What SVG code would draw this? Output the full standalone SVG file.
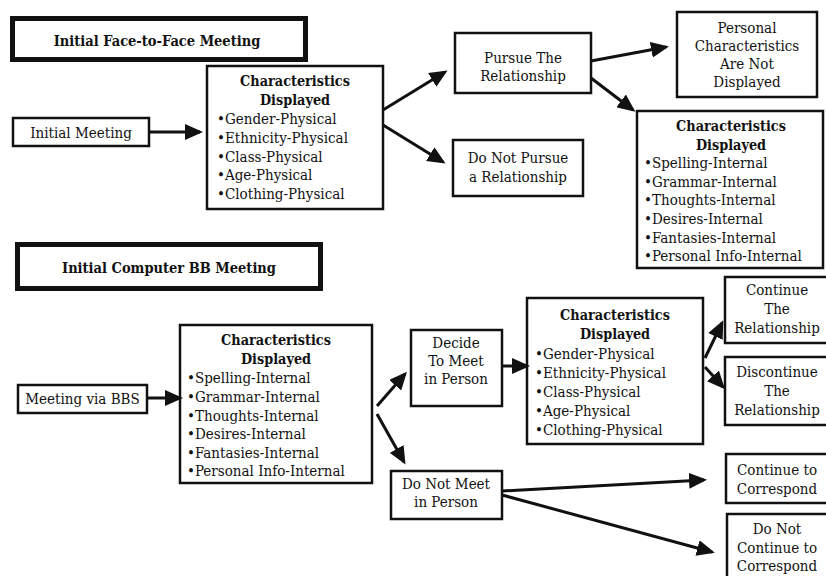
<svg xmlns="http://www.w3.org/2000/svg" width="826" height="576" viewBox="0 0 826 576">
<style>
text{font-family:"DejaVu Serif Condensed","DejaVu Serif",serif;font-stretch:condensed;font-size:15px;fill:#111}
.c{text-anchor:middle}
.b{font-weight:bold;font-size:14.3px}
.t{font-weight:bold;font-size:14.5px;text-anchor:middle}
.box{fill:#fff;stroke:#111;stroke-width:2.5}
.title{fill:#fff;stroke:#111;stroke-width:5}
.con line{stroke:#111;stroke-width:3;marker-end:url(#ah)}
</style>
<defs>
<marker id="ah" markerUnits="userSpaceOnUse" markerWidth="18" markerHeight="16" refX="15" refY="8" orient="auto">
<path d="M0,0 L18,8 L0,16 z" fill="#111"/>
</marker>
</defs>
<rect width="826" height="576" fill="#fff"/>

<g id="title1"><rect class="title" x="12.5" y="18.5" width="293" height="41"/><text class="t" x="157" y="46">Initial Face-to-Face Meeting</text></g>
<g id="initial"><rect class="box" x="13" y="118" width="136" height="28"/><text class="c" x="81" y="138">Initial Meeting</text></g>
<g id="char1"><rect class="box" x="207" y="66" width="176" height="143"/>
<text class="c b" x="295" y="86">Characteristics</text><text class="c b" x="295" y="105">Displayed</text>
<text x="217" y="124">•Gender-Physical</text><text x="217" y="143">•Ethnicity-Physical</text><text x="217" y="162">•Class-Physical</text><text x="217" y="180">•Age-Physical</text><text x="217" y="199">•Clothing-Physical</text></g>
<g id="pursue"><rect class="box" x="455" y="33" width="136" height="60"/><text class="c" x="523" y="63">Pursue The</text><text class="c" x="523" y="81">Relationship</text></g>
<g id="notpursue"><rect class="box" x="453" y="140" width="130" height="56"/><text class="c" x="518" y="163">Do Not Pursue</text><text class="c" x="518" y="182">a Relationship</text></g>
<g id="personal"><rect class="box" x="677" y="12" width="140" height="85"/><text class="c" x="747" y="33">Personal</text><text class="c" x="747" y="51">Characteristics</text><text class="c" x="747" y="69">Are Not</text><text class="c" x="747" y="87">Displayed</text></g>
<g id="char2"><rect class="box" x="637" y="111" width="186" height="157"/>
<text class="c b" x="731" y="131">Characteristics</text><text class="c b" x="731" y="150">Displayed</text>
<text x="644" y="168">•Spelling-Internal</text><text x="644" y="187">•Grammar-Internal</text><text x="644" y="205">•Thoughts-Internal</text><text x="644" y="224">•Desires-Internal</text><text x="644" y="243">•Fantasies-Internal</text><text x="644" y="261">•Personal Info-Internal</text></g>

<g id="title2"><rect class="title" x="17.5" y="244.5" width="303" height="44"/><text class="t" x="169" y="273">Initial Computer BB Meeting</text></g>
<g id="bbs"><rect class="box" x="18" y="385" width="129" height="28"/><text class="c" x="82.5" y="404">Meeting via BBS</text></g>
<g id="char3"><rect class="box" x="180" y="325" width="192" height="158"/>
<text class="c b" x="276" y="345">Characteristics</text><text class="c b" x="276" y="364">Displayed</text>
<text x="187" y="383">•Spelling-Internal</text><text x="187" y="402">•Grammar-Internal</text><text x="187" y="421">•Thoughts-Internal</text><text x="187" y="439">•Desires-Internal</text><text x="187" y="458">•Fantasies-Internal</text><text x="187" y="476">•Personal Info-Internal</text></g>
<g id="decide"><rect class="box" x="411" y="330" width="91" height="76"/><text class="c" x="456" y="348">Decide</text><text class="c" x="456" y="366">To Meet</text><text class="c" x="456" y="384">in Person</text></g>
<g id="char4"><rect class="box" x="527" y="298" width="176" height="146"/>
<text class="c b" x="615" y="320">Characteristics</text><text class="c b" x="615" y="339">Displayed</text>
<text x="535" y="359">•Gender-Physical</text><text x="535" y="378">•Ethnicity-Physical</text><text x="535" y="397">•Class-Physical</text><text x="535" y="416">•Age-Physical</text><text x="535" y="435">•Clothing-Physical</text></g>
<g id="continue"><rect class="box" x="725" y="277" width="110" height="66"/><text class="c" x="777" y="295">Continue</text><text class="c" x="777" y="314">The</text><text class="c" x="777" y="333">Relationship</text></g>
<g id="discontinue"><rect class="box" x="725" y="357" width="110" height="68"/><text class="c" x="777" y="377">Discontinue</text><text class="c" x="777" y="396">The</text><text class="c" x="777" y="415">Relationship</text></g>
<g id="notmeet"><rect class="box" x="391" y="471" width="111" height="48"/><text class="c" x="446" y="489">Do Not Meet</text><text class="c" x="446" y="507">in Person</text></g>
<g id="correspond"><rect class="box" x="726" y="454" width="110" height="49"/><text class="c" x="777" y="475">Continue to</text><text class="c" x="777" y="494">Correspond</text></g>
<g id="notcorrespond"><rect class="box" x="727" y="514" width="110" height="70"/><text class="c" x="777" y="534">Do Not</text><text class="c" x="777" y="553">Continue to</text><text class="c" x="777" y="571">Correspond</text></g>

<g class="con" id="connectors">
<line x1="149" y1="132" x2="200" y2="132"/>
<line x1="383" y1="110" x2="445" y2="72"/>
<line x1="383" y1="125" x2="443" y2="162"/>
<line x1="591" y1="61" x2="666" y2="47"/>
<line x1="591" y1="78" x2="633" y2="110"/>
<line x1="147" y1="398" x2="180" y2="398"/>
<line x1="377" y1="406" x2="405" y2="374"/>
<line x1="377" y1="414" x2="404" y2="462"/>
<line x1="502" y1="366" x2="527" y2="366"/>
<line x1="705" y1="358" x2="722" y2="323"/>
<line x1="705" y1="367" x2="723" y2="387"/>
<line x1="502" y1="491" x2="704" y2="480"/>
<line x1="502" y1="495" x2="712" y2="552"/>
</g>
</svg>
